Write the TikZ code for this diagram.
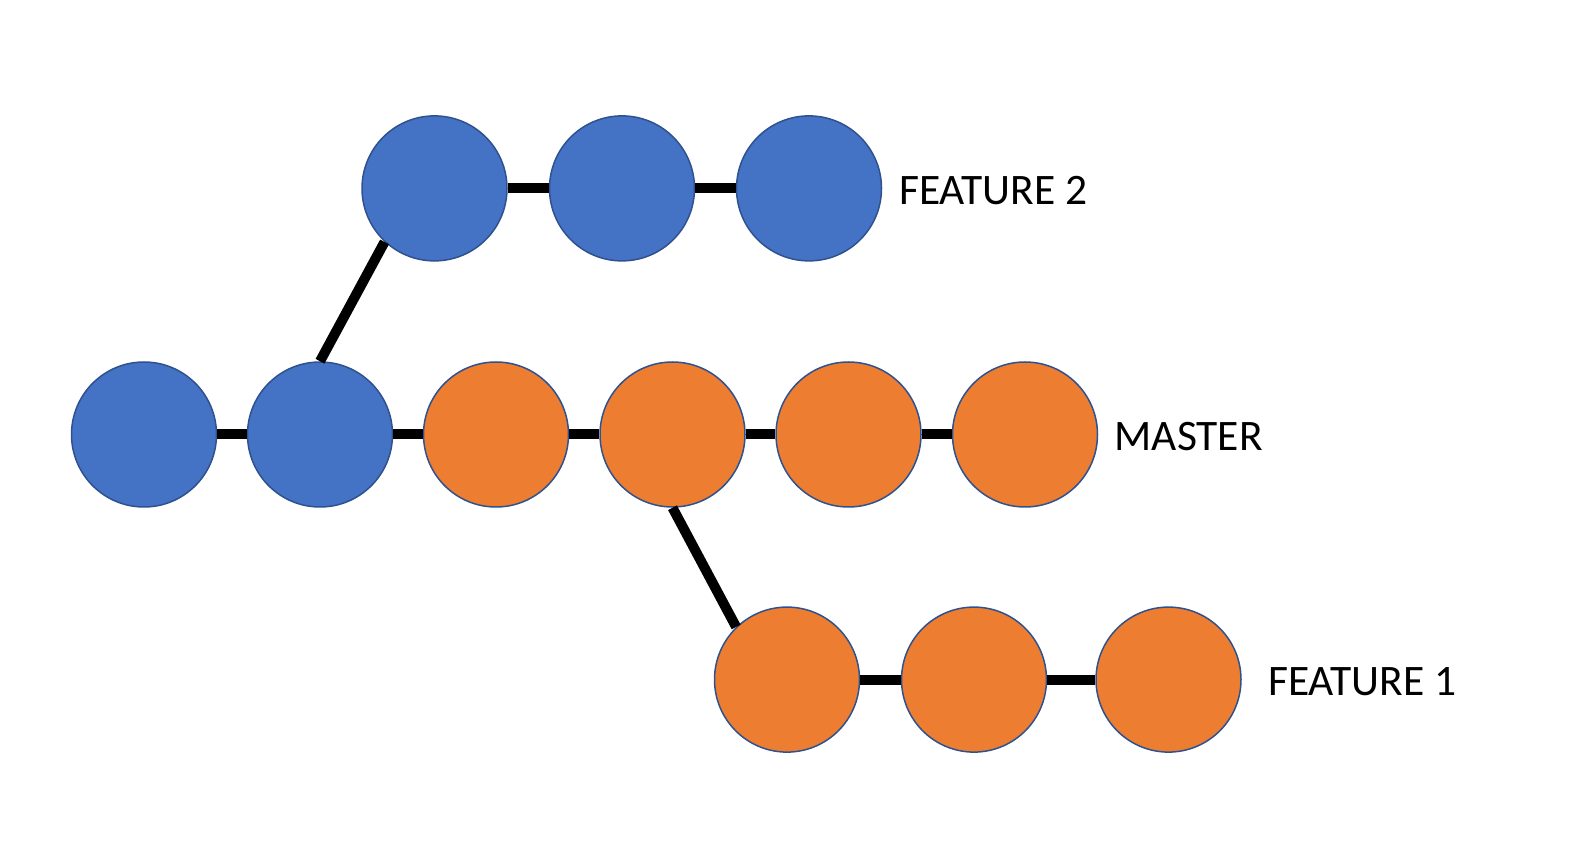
\documentclass[tikz,border=0pt]{standalone}
\usepackage{fontspec}
\setmainfont{Carlito}
\definecolor{commitblue}{HTML}{4472C4}
\definecolor{commitorange}{HTML}{ED7D31}
\definecolor{commitedge}{HTML}{2F528F}
\tikzset{
  commit/.style={circle, minimum size=145pt, inner sep=0pt, draw=commitedge, line width=1.5pt},
  bluec/.style={commit, fill=commitblue},
  orangec/.style={commit, fill=commitorange},
  link/.style={line width=10pt, black},
  branchname/.style={anchor=base west, inner sep=0pt, font=\fontsize{43.5}{52}\selectfont}
}
\begin{document}
\begin{tikzpicture}[x=1pt,y=1pt]
	\useasboundingbox (0,0) rectangle (1588,857);
	% master
	\draw (144,422.5) node[bluec] (m1) {};
	\draw (320,422.5) node[bluec] (m2) {};
	\draw (496,422.5) node[orangec] (m3) {};
	\draw (672.5,422.5) node[orangec] (m4) {};
	\draw (848.5,422.5) node[orangec] (m5) {};
	\draw (1025,422.5) node[orangec] (m6) {};
	% feature 2
	\draw (434.5,668.6) node[bluec] (f2a) {};
	\draw (622,668.6) node[bluec] (f2b) {};
	\draw (809,668.6) node[bluec] (f2c) {};
	% feature 1
	\draw (787,177.4) node[orangec] (f1a) {};
	\draw (974,177.4) node[orangec] (f1b) {};
	\draw (1168.5,177.4) node[orangec] (f1c) {};
	% links
	\foreach \a/\b in {m1/m2,m2/m3,m3/m4,m4/m5,m5/m6,f2a/f2b,f2b/f2c,f1a/f1b,f1b/f1c}
		\draw[link] (\a) -- (\b);
	\draw[link] (m2.north) -- (f2a.227);
	\draw[link] (m4.south) -- (f1a.134);
	% labels
	\draw (899,652) node[branchname] (l2) {FEATURE 2};
	\draw (1114.5,406.3) node[branchname] (lm) {MASTER};
	\draw (1268,161) node[branchname] (l1) {FEATURE 1};
\end{tikzpicture}
\end{document}
